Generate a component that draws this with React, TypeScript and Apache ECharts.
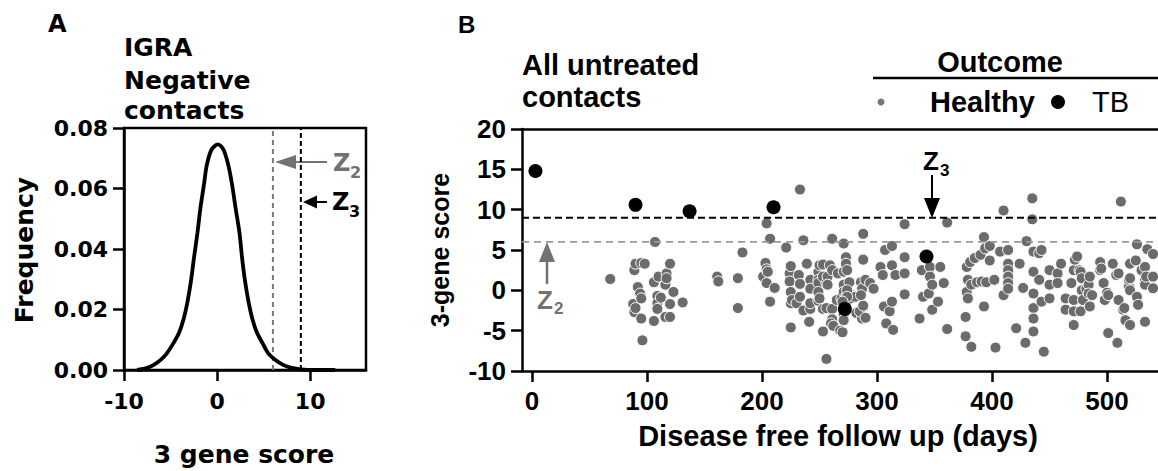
import React, { useEffect, useRef } from "react";
import * as echarts from "echarts";

// Panel A: frequency curve of the 3 gene score (IGRA negative contacts)
const curveA: [number, number][] = [
  [-8.6, 0], [-7.6, 0.0006], [-6.8, 0.0017], [-6.0, 0.0035], [-5.4, 0.0055], [-4.7, 0.0088],
  [-4.1, 0.0122], [-3.6, 0.0168], [-3.2, 0.0222], [-2.8, 0.0295], [-2.5, 0.0367], [-2.1, 0.0455],
  [-1.8, 0.0533], [-1.4, 0.0615], [-1.1, 0.0678], [-0.6, 0.0728], [0.1, 0.0746], [0.7, 0.0728],
  [1.2, 0.0678], [1.6, 0.0615], [2.0, 0.0533], [2.4, 0.0455], [2.7, 0.0367], [3.0, 0.0295],
  [3.4, 0.0222], [3.8, 0.0168], [4.3, 0.0122], [4.9, 0.0088], [5.5, 0.0055], [6.2, 0.0035],
  [7.1, 0.0017], [8.0, 0.0007], [9.0, 0.0002], [10.5, 0], [12.7, 0],
];
const z2 = 6;
const z3 = 9;

// Panel B: follow-up days vs 3-gene score
const healthy: [number, number][] = [
  [68, 1.4], [88, -1.7], [89, 2.5], [89, -2.7], [90, 3.3], [90, -2.2], [92, 0.4], [94, -0.4], [95, 3.4],
  [95, -1.0], [95, -3.5], [96, -6.2], [98, 3.3], [106, 1.0], [106, -3.8], [107, 6.0], [109, -0.7],
  [109, -1.6], [109, -2.3], [110, 1.7], [112, -0.9], [116, 0.7], [116, -3.3], [117, 2.1], [117, 1.5],
  [120, 3.3], [120, -1.7], [120, -3.3], [123, -0.2], [131, -1.5],
  [161, 1.7], [162, 1.1], [179, 1.5], [179, -2.2], [183, 4.7],
  [201, 1.7], [203, 3.4], [204, 8.3], [204, 2.6], [205, 2.3], [204, 0.9], [207, 6.4], [207, -1.4],
  [211, 0.3], [221, 5.3], [224, 2.1], [224, 1.1], [225, 3.0], [225, -0.2], [225, -1.6], [226, -1.2],
  [225, -4.6], [230, -1.6], [232, 1.9], [233, 12.5], [233, 0.8], [233, -0.8], [236, 6.2], [236, -2.5],
  [239, 3.3], [241, -3.9], [242, 1.3], [242, 0.2], [242, -2.3], [242, -1.6], [249, 2.3], [249, 1.3],
  [249, 0.9], [249, -0.2], [249, -1.3], [250, 3.1], [250, -1.0], [253, 3.2], [253, 1.7], [253, -2.3],
  [253, -5.1], [256, 0.9], [256, -2.2], [256, -8.5], [257, 1.7], [257, 0.7], [259, 3.1], [261, 6.4],
  [261, 2.5], [261, -2.3], [261, -3.6], [260, -4.1], [262, -4.4], [265, -1.2], [266, 2.1], [268, -5.0],
  [269, -1.0], [271, 5.8], [271, 2.3], [271, 0.7], [271, -0.2], [271, -3.0], [271, -3.7], [273, 4.1],
  [273, 3.3], [273, -0.8], [276, 1.0], [276, -0.4], [277, -1.0], [281, -0.8], [282, -2.8], [286, 1.0],
  [287, 0.2], [286, -0.6], [288, -2.0], [287, -3.5], [288, 3.9],
  [274, 2.5], [274, 0.0], [274, -0.8], [270, -1.4], [270, -5.2], [285, -2.6], [288, 7.0], [288, 3.8],
  [288, -1.9], [290, 1.3], [290, -3.4], [294, 0.9], [297, 0.2],
  [303, 2.9], [305, 1.9], [306, -2.0], [307, 5.0], [308, -4.1], [311, -2.6], [313, 5.5], [313, 3.1],
  [313, -1.4], [314, -4.9], [316, 1.9], [324, 8.2], [324, 4.1], [324, 2.1], [324, -0.5], [337, -3.5],
  [339, 2.5], [340, -0.8], [345, -0.4], [346, 2.9], [346, 1.7], [348, 0.7], [348, -2.4], [353, -1.4],
  [355, 2.9], [358, 0.9], [361, 8.4], [361, -4.8],
  [377, -3.3], [377, -5.7], [378, 2.9], [378, -0.2], [379, 1.3], [379, -1.0], [381, 3.5], [382, 0.7],
  [382, -7.0], [385, 4.0], [387, 1.0], [390, 4.4], [391, 1.1], [393, 6.6], [393, -2.0], [394, 5.2],
  [395, 1.0], [398, 5.5], [398, 3.7], [402, 1.3], [403, -7.1],
  [407, 4.8], [410, 9.9], [410, -0.6], [414, 5.0], [414, 3.3], [414, 2.5], [414, 1.7], [414, 0.9],
  [414, 0.2], [421, -4.7], [424, 3.3], [427, 0.3], [429, -6.5], [430, 6.1], [435, 11.4], [435, 8.8],
  [436, 4.8], [436, 2.3], [436, -0.4], [436, -2.2], [436, -3.5], [436, -5.1], [441, 4.6], [441, 1.3],
  [443, 5.0], [443, -1.4], [445, -7.6], [450, 2.5], [450, 0.7], [450, -1.0], [457, 2.1], [457, 0.9],
  [460, 3.3],
  [464, -1.0], [464, -2.4], [469, 0.9], [471, 2.5], [471, -2.6], [471, -4.3], [471, -1.2], [472, 3.8],
  [474, 4.2], [476, 2.5], [477, 2.3], [477, -2.6], [478, 1.5], [478, 0.0], [479, -1.2], [482, 0.2],
  [484, 0.7], [484, -0.4], [485, 1.7], [485, -2.0], [487, -0.6], [494, 3.5], [494, 2.5], [495, 2.7],
  [497, 0.9], [498, -1.2], [500, -0.3], [501, -0.6], [501, -5.3], [505, 3.3], [508, 1.9], [509, -6.5],
  [510, 2.1], [510, -1.2], [512, 11.0], [514, -2.4], [515, -2.2], [516, -3.7], [519, 0.5], [519, 1.3],
  [520, 3.3], [520, 1.5], [520, 0.0], [520, -4.3], [525, 3.7], [526, 5.7], [526, -0.8], [527, -1.8],
  [530, 2.5], [533, 1.3], [533, 2.9], [533, 0.7], [533, -3.9], [535, 5.1], [534, 1.7], [540, 4.5],
  [540, 1.7], [540, 0.25],
];
const tb: [number, number][] = [
  [3, 14.8], [90, 10.6], [137, 9.8], [210, 10.3], [272, -2.3], [343, 4.2],
];
const xTicksB = [0, 100, 200, 300, 400, 500];
const xMinB = -8.7;
const xMaxB = 544.3;

const fA = "DejaVu Sans";
const fB = "Liberation Sans";
const gray = "#727272";

function txt(text: string, x: number, y: number, size: number, family: string, opts: any = {}) {
  return {
    type: "text",
    x,
    y,
    rotation: opts.rotation || 0,
    style: {
      text,
      fill: opts.fill || "#000",
      fontSize: size,
      fontFamily: family,
      fontWeight: opts.weight || "bold",
      align: opts.align || "left",
      verticalAlign: "middle",
    },
  };
}

export default function App() {
  const ref = useRef<HTMLDivElement>(null);
  useEffect(() => {
    const chart = echarts.init(ref.current!, null, { renderer: "svg" });
    const axisLine = { show: true, onZero: false, lineStyle: { color: "#000", width: 2.5 } };
    const axisTick = { show: true, length: 11, lineStyle: { color: "#000", width: 2.5 } };
    chart.setOption({
      animation: false,
      backgroundColor: "#fff",
      grid: [
        { left: 124, top: 128, width: 242, height: 242, show: true, borderColor: "#000", borderWidth: 2.5, backgroundColor: "transparent" },
        { left: 522, top: 129, width: 636, height: 242 },
      ],
      xAxis: [
        {
          gridIndex: 0, type: "value", min: -10, max: 16, interval: 10,
          axisLine, axisTick, splitLine: { show: false },
          axisLabel: { color: "#000", fontFamily: fA, fontWeight: "bold", fontSize: 22, margin: 20, showMaxLabel: false },
        },
        {
          gridIndex: 1, type: "value", min: xMinB, max: xMaxB,
          axisLine, axisTick: { ...axisTick, customValues: xTicksB }, splitLine: { show: false },
          axisLabel: { color: "#000", fontFamily: fB, fontWeight: "bold", fontSize: 26, margin: 17, customValues: xTicksB },
        },
        {
          gridIndex: 1, type: "value", min: xMinB, max: xMaxB, position: "top",
          axisLine, axisTick: { show: false }, axisLabel: { show: false }, splitLine: { show: false },
        },
      ],
      yAxis: [
        {
          gridIndex: 0, type: "value", min: 0, max: 0.08, interval: 0.02,
          axisLine, axisTick, splitLine: { show: false },
          axisLabel: { color: "#000", fontFamily: fA, fontWeight: "bold", fontSize: 22, margin: 16, formatter: (v: number) => v.toFixed(2) },
        },
        {
          gridIndex: 1, type: "value", min: -10, max: 20, interval: 5,
          axisLine, axisTick, splitLine: { show: false },
          axisLabel: { color: "#000", fontFamily: fB, fontWeight: "bold", fontSize: 26, margin: 16 },
        },
      ],
      series: [
        {
          type: "line", xAxisIndex: 0, yAxisIndex: 0, data: [[z2, 0], [z2, 0.08]], showSymbol: false,
          lineStyle: { color: "#7a7a7a", width: 2, type: [5, 4] }, silent: true,
        },
        {
          type: "line", xAxisIndex: 0, yAxisIndex: 0, data: [[z3, 0], [z3, 0.08]], showSymbol: false,
          lineStyle: { color: "#000", width: 2, type: [5, 3] }, silent: true,
        },
        {
          type: "line", xAxisIndex: 0, yAxisIndex: 0, data: curveA, smooth: 0.3, showSymbol: false,
          lineStyle: { color: "#000", width: 3.8 },
        },
        {
          type: "line", xAxisIndex: 1, yAxisIndex: 1, data: [[xMinB, z3], [xMaxB, z3]], showSymbol: false,
          lineStyle: { color: "#000", width: 2.2, type: [7, 4] }, silent: true,
        },
        {
          type: "line", xAxisIndex: 1, yAxisIndex: 1, data: [[xMinB, z2], [xMaxB, z2]], showSymbol: false,
          lineStyle: { color: "#999", width: 1.8, type: [7, 5] }, silent: true,
        },
        {
          type: "scatter", xAxisIndex: 1, yAxisIndex: 1, data: healthy, symbolSize: 11,
          itemStyle: { color: "#6b6b6b", borderColor: "#fff", borderWidth: 1, opacity: 1 },
        },
        {
          type: "scatter", xAxisIndex: 1, yAxisIndex: 1, data: tb, symbolSize: 14,
          itemStyle: { color: "#000", opacity: 1 },
        },
      ],
      graphic: [
        // Panel A texts
        txt("A", 48, 24, 24, fA),
        txt("IGRA", 124, 47, 25, fA),
        txt("Negative", 124, 80, 25, fA),
        txt("contacts", 124, 110, 25, fA),
        txt("Frequency", 24, 250, 25, fA, { rotation: Math.PI / 2, align: "center" }),
        txt("3 gene score", 244, 454, 25, fA, { align: "center" }),
        // Panel A arrows
        { type: "line", shape: { x1: 294, y1: 162, x2: 327, y2: 162 }, style: { stroke: gray, lineWidth: 2 } },
        { type: "polygon", shape: { points: [[275, 162], [296, 155], [296, 169]] }, style: { fill: gray } },
        txt("Z", 333, 163, 24, fA, { fill: gray }),
        txt("2", 350, 172, 16, fA, { fill: gray }),
        { type: "line", shape: { x1: 314, y1: 202, x2: 327, y2: 202 }, style: { stroke: "#000", lineWidth: 2 } },
        { type: "polygon", shape: { points: [[303, 202], [317, 195.5], [317, 208.5]] }, style: { fill: "#000" } },
        txt("Z", 332, 202, 24, fA),
        txt("3", 349, 211, 16, fA),
        // Panel B texts
        txt("B", 458, 24, 24, fB),
        txt("All untreated", 522, 65, 29, fB),
        txt("contacts", 522, 97, 29, fB),
        txt("Outcome", 1000, 62, 29, fB, { align: "center" }),
        { type: "line", shape: { x1: 873, y1: 78, x2: 1158, y2: 78 }, style: { stroke: "#000", lineWidth: 2.5 } },
        { type: "circle", shape: { cx: 881, cy: 102, r: 3.5 }, style: { fill: "#777" } },
        txt("Healthy", 930, 102, 29, fB),
        { type: "circle", shape: { cx: 1058, cy: 102, r: 7 }, style: { fill: "#000" } },
        txt("TB", 1092, 102, 29, fB, { weight: "normal" }),
        txt("3-gene score", 440, 250, 25, fB, { rotation: Math.PI / 2, align: "center" }),
        txt("Disease free follow up (days)", 838, 436, 29, fB, { align: "center" }),
        // Panel B arrows
        txt("Z", 923, 161, 26, fB),
        txt("3", 940, 170, 17, fB),
        { type: "line", shape: { x1: 932, y1: 175, x2: 932, y2: 200 }, style: { stroke: "#000", lineWidth: 2 } },
        { type: "polygon", shape: { points: [[932, 218], [924, 198], [940, 198]] }, style: { fill: "#000" } },
        { type: "line", shape: { x1: 547, y1: 259, x2: 547, y2: 284 }, style: { stroke: gray, lineWidth: 2.5 } },
        { type: "polygon", shape: { points: [[547, 242], [539, 262], [555, 262]] }, style: { fill: gray } },
        txt("Z", 537, 300, 26, fB, { fill: gray }),
        txt("2", 554, 308, 17, fB, { fill: gray }),
      ],
    });
    return () => chart.dispose();
  }, []);
  return <div ref={ref} style={{ position: "fixed", left: 0, top: 0, width: 1158, height: 471 }} />;
}
